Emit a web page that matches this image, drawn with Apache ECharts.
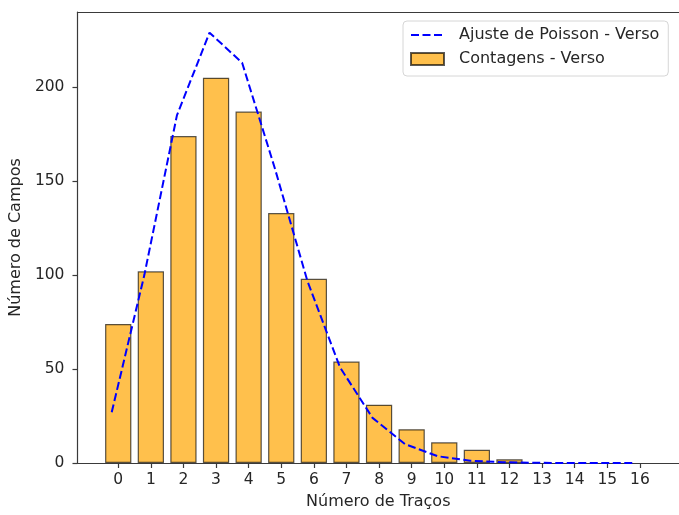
<!DOCTYPE html>
<html><head><meta charset="utf-8">
<script src="https://cdn.jsdelivr.net/npm/echarts@6/dist/echarts.min.js"></script>
<style>html,body{margin:0;padding:0;background:#fff}#c{width:679px;height:515px}</style>
</head><body><div id="c"></div>
<script>
// ---- data ----
const categories = [0,1,2,3,4,5,6,7,8,9,10,11,12,13,14,15,16];
const countValues = [74,102,174,205,187,133,98,54,31,18,11,7,2];
const poissonValues = [27,100,185,229,213,157,97,51,24,10,3.6,1.2,0.4,0.1,0.03,0.01,0];
const yTickValues = [0,50,100,150,200];
const countName = 'Contagens - Verso';
const poissonName = 'Ajuste de Poisson - Verso';
const xTitle = 'Número de Traços';
const yTitle = 'Número de Campos';

// ---- layout ----
const LINE_SHIFT = -0.2;
const X_MIN = -1.25, X_MAX = 17.2;
const GRID = {left: 77, top: 12, width: 606, height: 451};
const pxPerUnit = GRID.width / (X_MAX - X_MIN);
const FONT = 'DejaVu Sans';
const TXT = '#262626';
const AX = '#3a3a3a';

const chart = echarts.init(document.getElementById('c'), null, {renderer: 'canvas'});
chart.setOption({
  animation: false,
  backgroundColor: '#fff',
  textStyle: {fontFamily: FONT},
  grid: GRID,
  legend: {
    orient: 'vertical', left: 403, top: 21,
    padding: [6, 9, 9, 7], itemGap: 8,
    itemWidth: 33, itemHeight: 12,
    backgroundColor: 'rgba(255,255,255,0.85)',
    borderColor: '#d6d6d6', borderWidth: 1, borderRadius: 4,
    textStyle: {fontFamily: FONT, fontSize: 16, color: TXT, lineHeight: 16, padding: [0,0,0,10]},
    data: [{name: poissonName, itemStyle: {opacity: 0}}, {name: countName, icon: 'rect'}]
  },
  xAxis: [{
    type: 'value', min: X_MIN, max: X_MAX, position: 'bottom',
    name: xTitle, nameLocation: 'middle', nameGap: 31,
    nameTextStyle: {fontFamily: FONT, fontSize: 16, color: TXT},
    axisLine: {show: true, onZero: false, lineStyle: {color: AX, width: 1.2}},
    axisTick: {show: true, length: 5, customValues: categories, lineStyle: {color: AX, width: 1.2}},
    axisLabel: {customValues: categories, margin: 9, fontFamily: FONT, fontSize: 15.5, color: TXT},
    splitLine: {show: false}
  }, {
    type: 'value', min: X_MIN, max: X_MAX, position: 'top',
    axisLine: {show: true, onZero: false, lineStyle: {color: AX, width: 1.2}},
    axisTick: {show: false}, axisLabel: {show: false}, splitLine: {show: false}
  }],
  yAxis: {
    type: 'value', min: 0, max: 240,
    name: yTitle, nameLocation: 'middle', nameGap: 50,
    nameTextStyle: {fontFamily: FONT, fontSize: 16, color: TXT},
    axisLine: {show: true, onZero: false, lineStyle: {color: AX, width: 1.2}},
    axisTick: {show: true, length: 5, customValues: yTickValues, lineStyle: {color: AX, width: 1.2}},
    axisLabel: {customValues: yTickValues, margin: 13, fontFamily: FONT, fontSize: 15.5, color: TXT},
    splitLine: {show: false}
  },
  series: [{
    name: poissonName, type: 'line', z: 5,
    data: categories.map((c, i) => [c + LINE_SHIFT, poissonValues[i]]),
    symbol: 'none', smooth: false,
    lineStyle: {color: '#0000ff', width: 2, type: [8, 3.5]},
    itemStyle: {color: '#0000ff'}
  }, {
    name: countName, type: 'bar', z: 2,
    data: countValues.map((v, i) => [categories[i], v]),
    barWidth: 0.8 * pxPerUnit,
    itemStyle: {color: 'rgba(255,165,0,0.7)', borderColor: 'rgba(0,0,0,0.65)', borderWidth: 1.2}
  }]
});
</script></body></html>
